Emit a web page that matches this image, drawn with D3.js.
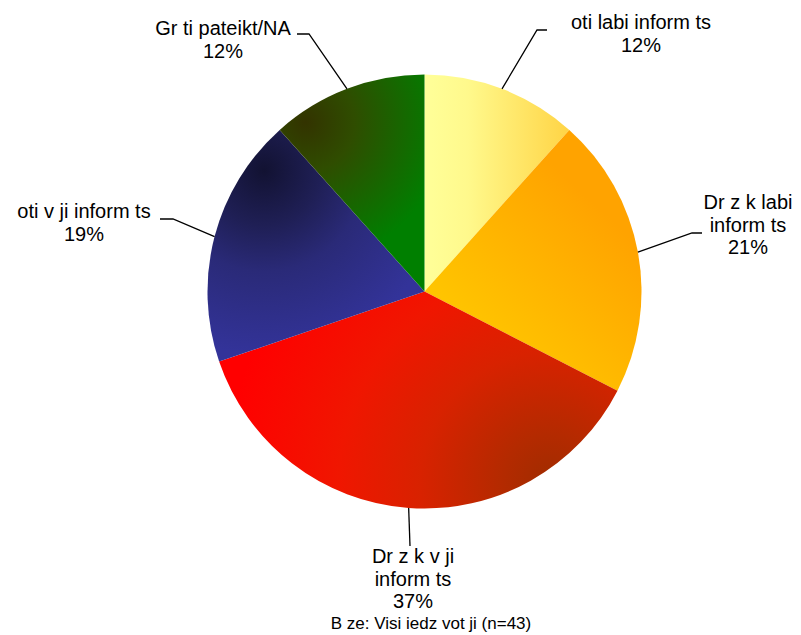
<!DOCTYPE html>
<html>
<head>
<meta charset="utf-8">
<script src="https://cdn.jsdelivr.net/npm/d3@7"></script>
<style>
  html, body { margin: 0; padding: 0; background: #fff; }
  svg text { font-family: "Liberation Sans", Arial, sans-serif; fill: #000; white-space: pre; }
</style>
</head>
<body>
<svg width="801" height="635"></svg>
<script>
// data (clockwise from 12 o'clock), n=43
const categories = [
    ["oti labi inform ts"],
    ["Dr z k labi", "inform ts"],
    ["Dr z k v ji", "inform ts"],
    ["oti v ji inform ts"],
    ["Gr ti pateikt/NA"]
];
const counts = [5, 9, 16, 8, 5];
const footnote = "B ze: Visi iedz vot ji (n=43)";

// label layout: elbow point, end of short tail, text centre x, first baseline
const labelLayout = [
    { ex: 537, ey: 30,  tx: 547, cx: 641, by: 29 },
    { ex: 692, ey: 233, tx: 702, cx: 748, by: 209 },
    { ex: 410, ey: 546, tx: 410, cx: 413, by: 563 },
    { ex: 173, ey: 219, tx: 160, cx: 84,  by: 218 },
    { ex: 309, ey: 34,  tx: 297, cx: 223, by: 35 }
];

const svg = d3.select("svg");
const cx = 424.5, cy = 291.5, r = 217;
const lineH = 22.5;

const defs = svg.append("defs");

// yellow - horizontal
const gYellow = defs.append("linearGradient").attr("id", "g0")
    .attr("x1", 0).attr("y1", 0).attr("x2", 1).attr("y2", 0);
[[0, "#ffff99"], [0.3, "#fff98c"], [1, "#ffd445"]].forEach(s =>
    gYellow.append("stop").attr("offset", s[0]).attr("stop-color", s[1]));

// orange - diagonal
const gOrange = defs.append("linearGradient").attr("id", "g1")
    .attr("x1", 0).attr("y1", 0.8).attr("x2", 0.55).attr("y2", 0.1);
[[0, "#ffcc00"], [0.45, "#ffba00"], [1, "#ffa300"]].forEach(s =>
    gOrange.append("stop").attr("offset", s[0]).attr("stop-color", s[1]));

// radial gradients live in the pie group's space (origin = pie centre)
function radial(id, fx, fy, rad, stops) {
    const gr = defs.append("radialGradient").attr("id", id)
        .attr("gradientUnits", "userSpaceOnUse")
        .attr("cx", fx * r).attr("cy", fy * r).attr("r", rad * r)
        .attr("fx", fx * r).attr("fy", fy * r);
    stops.forEach(s => gr.append("stop").attr("offset", s[0]).attr("stop-color", s[1]));
}

// red - dark towards lower right
radial("g2", 0.58, 0.88, 1.5,
    [[0, "#a02c00"], [0.15, "#b42a00"], [0.4, "#d82200"], [0.65, "#f01600"], [1, "#ff0000"]]);
// blue - dark towards upper left
radial("g3", -0.74, -0.56, 0.85,
    [[0, "#121232"], [0.3, "#1f1f55"], [0.55, "#2a2a78"], [1, "#333399"]]);
// green - dark olive towards upper left
radial("g4", -0.55, -0.78, 0.65,
    [[0, "#333300"], [0.35, "#2f4d00"], [1, "#007f00"]]);

const total = d3.sum(counts);
const pie = d3.pie().sort(null).value(d => d);
const arcs = pie(counts);
const arc = d3.arc().innerRadius(0).outerRadius(r);

const g = svg.append("g").attr("transform", `translate(${cx},${cy})`);

g.selectAll("path.slice")
    .data(arcs)
    .enter()
    .append("path")
    .attr("class", "slice")
    .attr("d", arc)
    .attr("fill", (d, i) => `url(#g${i})`);

// leader lines + labels
arcs.forEach((d, i) => {
    const a = (d.startAngle + d.endAngle) / 2;
    const sx = cx + r * Math.sin(a);
    const sy = cy - r * Math.cos(a);
    const L = labelLayout[i];
    svg.append("polyline")
        .attr("points", `${sx},${sy} ${L.ex},${L.ey} ${L.tx},${L.ey}`)
        .attr("fill", "none")
        .attr("stroke", "#000")
        .attr("stroke-width", 1.3);

    const lines = categories[i].concat([Math.round(counts[i] / total * 100) + "%"]);
    const t = svg.append("text")
        .attr("text-anchor", "middle")
        .attr("font-size", 20);
    lines.forEach((txt, j) => {
        t.append("tspan")
            .attr("x", L.cx)
            .attr("y", L.by + j * lineH)
            .text(txt);
    });
});

svg.append("text")
    .attr("x", 431)
    .attr("y", 629)
    .attr("text-anchor", "middle")
    .attr("font-size", 17)
    .text(footnote);
</script>
</body>
</html>
